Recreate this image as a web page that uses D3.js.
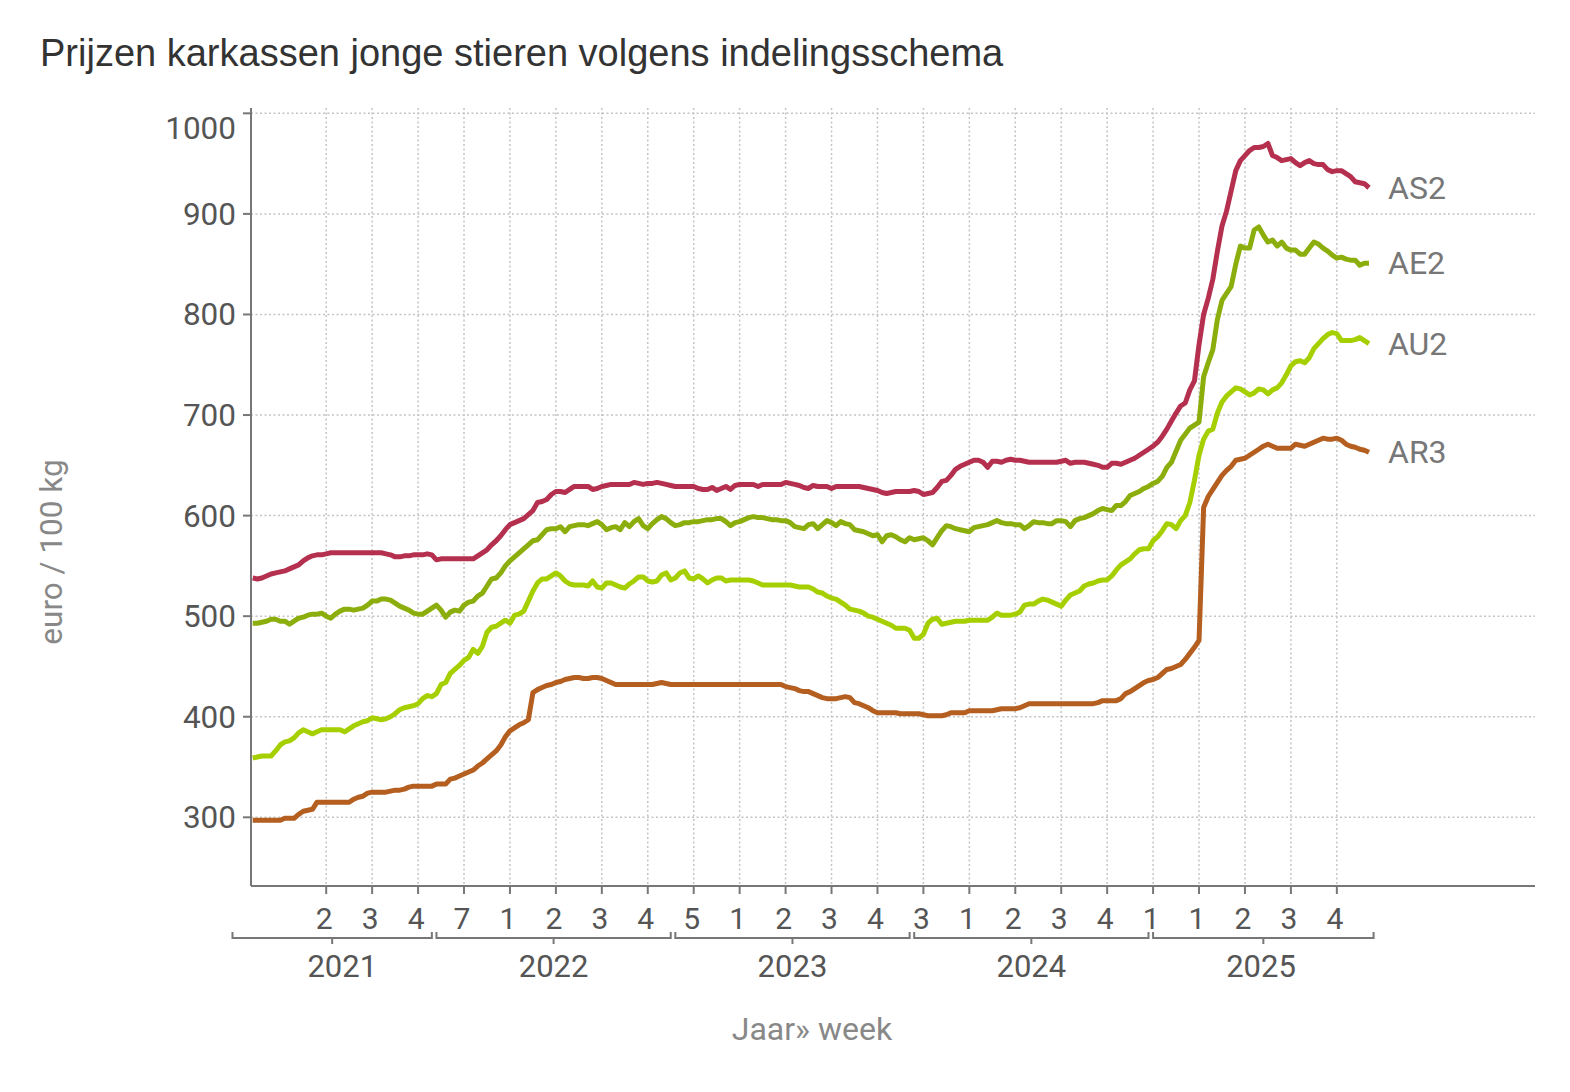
<!DOCTYPE html>
<html>
<head>
<meta charset="utf-8">
<script src="https://cdn.jsdelivr.net/npm/d3@7/dist/d3.min.js"></script>
<style>
  body { margin: 0; background: #fff; }
  svg text { font-family: Roboto, "Liberation Sans", sans-serif; }
</style>
</head>
<body>
<div id="chart"></div>
<script>
// Weekly series, first point = 2021 week 13, last point = 2025 week 48
const seriesNames = ["AS2", "AE2", "AU2", "AR3"];
const seriesColors = ["#b5304f", "#8cae0c", "#a6cf00", "#b45e20"];

const AS2 = [
  538,537,538,540,542,543,544,545,547,549,
  551,555,558,560,561,561,562,563,563,563,
  563,563,563,563,563,563,563,563,563,562,
  561,559,559,560,560,561,561,561,562,561,
  556,557,557,557,557,557,557,557,557,560,
  563,566,571,575,580,586,591,593,595,597,
  601,605,613,614,616,621,624,624,623,626,
  629,629,629,629,626,627,629,630,631,631,
  631,631,631,633,632,631,632,632,633,632,
  631,630,629,629,629,629,629,627,626,626,
  628,625,627,629,626,630,631,631,631,631,
  629,631,631,631,631,631,633,632,631,630,
  628,627,630,629,629,629,627,629,629,629,
  629,629,629,628,627,626,625,623,622,623,
  624,624,624,624,625,624,621,622,623,628,
  634,635,640,646,649,651,653,655,655,653,
  648,654,654,653,655,656,655,655,654,653,
  653,653,653,653,653,653,654,655,652,653,
  653,653,652,651,650,648,648,652,652,651,
  653,655,657,660,663,666,669,673,679,686,
  694,702,709,712,725,734,770,800,816,835,
  863,888,903,923,943,953,958,963,966,966,
  967,970,958,956,953,954,955,951,948,951,
  953,950,949,949,944,942,943,943,940,937,
  932,931,930,926
];

const AE2 = [
  493,493,494,495,497,497,495,495,492,495,
  498,499,501,502,502,503,500,498,502,505,
  507,507,506,507,508,511,515,515,517,517,
  516,513,510,508,506,503,502,502,505,508,
  511,506,499,504,506,505,511,514,515,520,
  523,530,537,538,543,550,555,559,563,567,
  571,575,576,581,586,587,587,589,584,589,
  590,591,591,590,592,594,591,586,588,589,
  586,593,589,594,597,590,587,592,596,599,
  597,593,590,591,593,593,594,594,595,596,
  596,597,597,594,590,593,594,596,598,599,
  598,598,597,596,596,595,595,593,589,588,
  587,591,592,587,591,595,593,590,594,592,
  591,586,585,584,582,580,581,574,580,581,
  579,576,574,578,576,577,578,575,571,578,
  585,590,589,587,586,585,584,588,589,590,
  591,593,595,593,592,592,591,591,587,590,
  594,593,593,592,592,595,595,594,589,595,
  597,598,600,602,605,607,606,605,610,610,
  614,620,622,624,627,629,632,634,639,648,
  653,664,675,681,687,690,693,738,752,765,
  795,814,821,828,850,868,866,866,884,887,
  879,872,874,868,872,866,864,864,860,860,
  866,872,870,866,863,859,856,857,855,854,
  854,849,851,851
];

const AU2 = [
  359,360,361,361,361,366,372,375,376,379,
  384,387,385,383,385,387,387,387,387,387,
  385,388,391,393,395,396,399,398,397,398,
  400,403,407,409,410,411,413,418,421,420,
  423,432,434,443,447,451,456,459,467,463,
  470,484,489,490,493,496,493,501,502,505,
  515,525,533,537,537,540,543,540,535,532,
  531,531,531,530,535,529,528,533,533,531,
  529,528,532,535,539,539,535,534,535,541,
  543,536,538,543,545,538,537,540,537,533,
  536,538,538,535,536,536,536,536,536,535,
  533,531,531,531,531,531,531,531,530,529,
  529,529,527,524,523,520,518,517,514,511,
  507,506,505,503,500,499,497,495,493,491,
  488,488,488,486,478,478,482,493,497,498,
  492,493,494,495,495,495,496,496,496,496,
  496,499,503,501,501,501,502,504,511,512,
  512,515,517,516,514,512,510,516,521,523,
  525,530,532,533,535,536,536,540,546,551,
  554,557,562,566,567,567,575,579,585,592,
  591,587,595,600,613,635,660,676,684,686,
  702,713,719,723,727,726,723,720,722,726,
  725,721,725,727,732,740,749,753,754,752,
  757,766,771,776,780,782,781,774,774,774,
  775,777,774,771
];

const AR3 = [
  297,297,297,297,297,297,297,299,299,299,
  303,306,307,308,315,315,315,315,315,315,
  315,315,318,320,321,324,325,325,325,325,
  326,327,327,328,330,331,331,331,331,331,
  333,333,333,338,339,341,343,345,347,351,
  354,358,362,366,372,380,386,389,392,394,
  397,424,427,429,431,432,434,435,437,438,
  439,439,438,438,439,439,438,436,434,432,
  432,432,432,432,432,432,432,432,433,434,
  433,432,432,432,432,432,432,432,432,432,
  432,432,432,432,432,432,432,432,432,432,
  432,432,432,432,432,432,430,429,428,426,
  425,425,423,421,419,418,418,418,419,420,
  419,414,413,411,409,406,404,404,404,404,
  404,403,403,403,403,403,402,401,401,401,
  401,402,404,404,404,404,406,406,406,406,
  406,406,407,408,408,408,408,409,411,413,
  413,413,413,413,413,413,413,413,413,413,
  413,413,413,413,414,416,416,416,416,418,
  423,425,428,431,434,436,437,439,443,447,
  448,450,452,457,463,469,476,608,619,626,
  633,640,645,649,655,656,657,660,663,666,
  669,671,669,667,667,667,667,671,670,669,
  671,673,675,677,676,676,677,675,671,669,
  668,666,665,663
];

// Week ticks (every 10th week) and their labels as shown on the axis
const tickWeekIndex = [16,26,36,46,56,66,76,86,96,106,116,126,136,146,156,166,176,186,196,206,216,226,236];
const tickLabels = ["2","3","4","7","1","2","3","4","5","1","2","3","4","3","1","2","3","4","1","1","2","3","4"];

// Year groups (week index range covered by each year)
const years = ["2021", "2022", "2023", "2024", "2025"];
const yearFirstIndex = [-4.4, 40, 92, 144, 196];
const yearLastIndex = [39, 91, 143, 195, 244];

const yTicks = [300, 400, 500, 600, 700, 800, 900, 1000];

const width = 1570, height = 1092;
const plot = {left: 251, right: 1535, top: 108, bottom: 886};

const svg = d3.select("#chart")
    .append("svg")
    .attr("width", width)
    .attr("height", height);

// Scales
const x = d3.scaleLinear()
    .domain([0, AS2.length - 1])
    .range([252.7, 1369]);

const y = d3.scaleLinear()
    .domain([231.7, 1005.3])
    .range([plot.bottom, plot.top]);

// Title
svg.append("text")
    .attr("x", 40)
    .attr("y", 66)
    .style("font-family", "'Liberation Sans', Arial, sans-serif")
    .style("font-size", "38px")
    .attr("fill", "#333")
    .text("Prijzen karkassen jonge stieren volgens indelingsschema");

// Gridlines
const grid = svg.append("g").attr("class", "grid")
    .attr("stroke", "#c4c4c4")
    .attr("stroke-width", 1.5)
    .attr("stroke-dasharray", "2,2.5");

grid.selectAll(".hgrid")
    .data(yTicks)
    .enter()
    .append("line")
    .attr("x1", plot.left)
    .attr("x2", plot.right)
    .attr("y1", d => y(d))
    .attr("y2", d => y(d));

grid.selectAll(".vgrid")
    .data(tickWeekIndex)
    .enter()
    .append("line")
    .attr("x1", d => x(d))
    .attr("x2", d => x(d))
    .attr("y1", plot.top)
    .attr("y2", plot.bottom);

// Axes
const axisColor = "#777";
svg.append("line")
    .attr("x1", plot.left).attr("x2", plot.left)
    .attr("y1", plot.top).attr("y2", plot.bottom)
    .attr("stroke", axisColor).attr("stroke-width", 2);

svg.append("line")
    .attr("x1", plot.left).attr("x2", plot.right)
    .attr("y1", plot.bottom).attr("y2", plot.bottom)
    .attr("stroke", axisColor).attr("stroke-width", 2);

// Y ticks + labels
const yAxisG = svg.append("g");
yAxisG.selectAll("line")
    .data(yTicks)
    .enter()
    .append("line")
    .attr("x1", plot.left - 8)
    .attr("x2", plot.left)
    .attr("y1", d => y(d))
    .attr("y2", d => y(d))
    .attr("stroke", axisColor)
    .attr("stroke-width", 2);

yAxisG.selectAll("text")
    .data(yTicks)
    .enter()
    .append("text")
    .attr("x", 236)
    // top label is pushed down a bit so it stays inside the frame
    .attr("y", d => y(d) + (d === 1000 ? 15 : 0))
    .attr("dy", "0.35em")
    .attr("text-anchor", "end")
    .style("font-size", "31.5px")
    .attr("fill", "#555")
    .text(d => d);

// Y axis title
svg.append("text")
    .attr("transform", "translate(62, 552) rotate(-90)")
    .attr("text-anchor", "middle")
    .style("font-size", "31.5px")
    .attr("fill", "#888")
    .text("euro / 100 kg");

// X ticks + week labels
const xAxisG = svg.append("g");
xAxisG.selectAll("line")
    .data(tickWeekIndex)
    .enter()
    .append("line")
    .attr("x1", d => x(d))
    .attr("x2", d => x(d))
    .attr("y1", plot.bottom)
    .attr("y2", plot.bottom + 8)
    .attr("stroke", axisColor)
    .attr("stroke-width", 2);

xAxisG.selectAll("text")
    .data(tickWeekIndex)
    .enter()
    .append("text")
    .attr("x", (d, i) => x(d) - 2)
    .attr("y", 929)
    .attr("text-anchor", "middle")
    .style("font-size", "30px")
    .attr("fill", "#555")
    .text((d, i) => tickLabels[i]);

// Year brackets
const bracketY = 938;
const yearG = svg.append("g")
    .selectAll("g")
    .data(years)
    .enter()
    .append("g");

yearG.append("path")
    .attr("d", (d, i) => {
        const x0 = x(yearFirstIndex[i]), x1 = x(yearLastIndex[i]);
        return `M${x0},${bracketY - 6}V${bracketY}H${x1}V${bracketY - 6}`;
    })
    .attr("fill", "none")
    .attr("stroke", axisColor)
    .attr("stroke-width", 2);

yearG.append("line")
    .attr("x1", (d, i) => x((yearFirstIndex[i] + yearLastIndex[i]) / 2))
    .attr("x2", (d, i) => x((yearFirstIndex[i] + yearLastIndex[i]) / 2))
    .attr("y1", bracketY)
    .attr("y2", bracketY + 6)
    .attr("stroke", axisColor)
    .attr("stroke-width", 2);

yearG.append("text")
    .attr("x", (d, i) => x((Math.max(yearFirstIndex[i], 0) + Math.min(yearLastIndex[i], AS2.length - 1)) / 2))
    .attr("y", 977)
    .attr("text-anchor", "middle")
    .style("font-size", "31px")
    .attr("fill", "#555")
    .text(d => d);

// X axis title
svg.append("text")
    .attr("x", 812)
    .attr("y", 1040)
    .attr("text-anchor", "middle")
    .style("font-size", "32px")
    .attr("fill", "#888")
    .text("Jaar» week");

// Lines
const allSeries = [AS2, AE2, AU2, AR3];
const line = d3.line()
    .x((d, i) => x(i))
    .y(d => y(d));

svg.append("g")
    .selectAll("path")
    .data(allSeries)
    .enter()
    .append("path")
    .attr("d", d => line(d))
    .attr("fill", "none")
    .attr("stroke", (d, i) => seriesColors[i])
    .attr("stroke-width", 5)
    .attr("stroke-linejoin", "round");

// Series labels at the end of each line
svg.append("g")
    .selectAll("text")
    .data(allSeries)
    .enter()
    .append("text")
    .attr("x", 1388)
    .attr("y", d => y(d[d.length - 1]))
    .attr("dy", "0.35em")
    .style("font-size", "32px")
    .attr("fill", "#777")
    .text((d, i) => seriesNames[i]);
</script>
</body>
</html>
